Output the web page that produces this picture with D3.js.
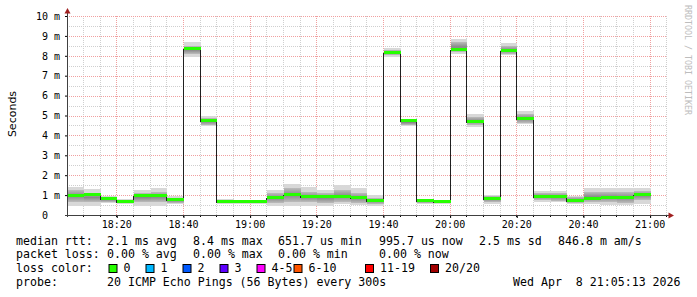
<!DOCTYPE html>
<html>
<head>
<meta charset="utf-8">
<script src="https://cdn.jsdelivr.net/npm/d3@7"></script>
<style>
    body { margin: 0; background: #fff; }
    text { font-family: "DejaVu Sans Mono", monospace; }
</style>
</head>
<body>
<div id="wrapper"></div>
<script>
// one 5-minute SmokePing step per entry
const stepTimes = ["18:05", "18:10", "18:15", "18:20", "18:25", "18:30", "18:35",
    "18:40", "18:45", "18:50", "18:55", "19:00", "19:05", "19:10", "19:15", "19:20",
    "19:25", "19:30", "19:35", "19:40", "19:45", "19:50", "19:55", "20:00", "20:05",
    "20:10", "20:15", "20:20", "20:25", "20:30", "20:35", "20:40", "20:45", "20:50", "20:55"]

// median rtt in ms
const median = [0.95, 1.02, 0.79, 0.652, 0.94, 0.97, 0.75, 8.36, 4.74, 0.66, 0.655, 0.66,
    0.85, 0.99, 0.89, 0.89, 0.92, 0.84, 0.69, 8.16, 4.71, 0.69, 0.66, 8.28, 4.69,
    0.78, 8.24, 4.82, 0.92, 0.92, 0.70, 0.80, 0.85, 0.85, 0.996]

// smoke: outer spread of the pings (ms)
const smokeHi = [1.42, 1.31, 0.97, 0.80, 1.26, 1.37, 0.97, 8.69, 4.97, 0.78, 0.72, 0.75,
    1.26, 1.54, 1.42, 1.26, 1.51, 1.37, 1.00, 8.39, 4.84, 0.80, 0.70, 8.86, 5.08,
    1.00, 8.66, 5.24, 1.21, 1.21, 0.97, 1.37, 1.34, 1.34, 1.37]
const smokeLo = [0.47, 0.47, 0.60, 0.54, 0.47, 0.47, 0.54, 7.96, 4.47, 0.55, 0.55, 0.55,
    0.47, 0.47, 0.47, 0.47, 0.54, 0.50, 0.47, 7.96, 4.47, 0.54, 0.56, 8.09, 4.44,
    0.54, 8.02, 4.57, 0.67, 0.64, 0.54, 0.54, 0.50, 0.50, 0.54]

// smoke: inner (denser) spread (ms)
const innerHi = [1.26, 1.09, 0.90, 0.74, 1.09, 1.17, 0.87, 8.49, 4.87, 0.72, 0.68, 0.70,
    1.09, 1.34, 1.17, 1.09, 1.26, 1.09, 0.87, 8.29, 4.79, 0.75, 0.68, 8.69, 4.94,
    0.94, 8.49, 5.07, 1.09, 1.09, 0.90, 1.17, 1.17, 1.14, 1.21]
const innerLo = [0.67, 0.67, 0.67, 0.60, 0.67, 0.64, 0.60, 8.09, 4.54, 0.60, 0.60, 0.60,
    0.59, 0.67, 0.67, 0.62, 0.67, 0.59, 0.54, 8.02, 4.54, 0.60, 0.60, 8.19, 4.54,
    0.64, 8.09, 4.64, 0.74, 0.72, 0.60, 0.67, 0.64, 0.62, 0.74]

const yTicks = [0, 1, 2, 3, 4, 5, 6, 7, 8, 9, 10]
const xTickLabels = ["18:20", "18:40", "19:00", "19:20", "19:40", "20:00", "20:20", "20:40", "21:00"]
const lossLabels = ["0", "1", "2", "3", "4-5", "6-10", "11-19", "20/20"]
const lossColors = ["#26ff00", "#00b8ff", "#0059ff", "#5e00ff", "#ff00ff", "#ff5500", "#ff0000", "#a10000"]

const day = "2026-04-08 "
const startTime = "18:05:13"
const endTime = "21:05:13"

const legendRtt = ["2.1 ms avg", "8.4 ms max", "651.7 us min", "995.7 us now", "2.5 ms sd", "846.8 m am/s"]
const legendLoss = ["0.00 % avg", "0.00 % max", "0.00 % min", "0.00 % now"]
const probeText = "20 ICMP Echo Pings (56 Bytes) every 300s"
const stampText = "Wed Apr  8 21:05:13 2026"

function drawChart() {
    const parseFull = d3.timeParse("%Y-%m-%d %H:%M:%S")
    const parseHM = d3.timeParse("%Y-%m-%d %H:%M")

    const dataset = stepTimes.map((t, i) => ({
        t: parseHM(day + t),
        med: median[i],
        hi: smokeHi[i], lo: smokeLo[i],
        ihi: innerHi[i], ilo: innerLo[i]
    }))

    const dimensions = {
        width: 697,
        height: 297,
        left: 67,
        right: 667,
        top: 16,
        bottom: 215
    }

    const wrapper = d3.select("#wrapper")
        .append("svg")
        .attr("width", dimensions.width)
        .attr("height", dimensions.height)
        .style("display", "block")

    const xScale = d3.scaleTime()
        .domain([parseFull(day + startTime), parseFull(day + endTime)])
        .range([dimensions.left, dimensions.right])

    const yScale = d3.scaleLinear()
        .domain([0, 10])
        .range([dimensions.bottom, dimensions.top])

    // snap to the pixel grid like rrdtool does
    const px = d => Math.round(xScale(d))
    const py = v => Math.round(yScale(v))
    const stepEnd = d => d3.timeMinute.offset(d.t, 5)

    // smoke gradient (darker toward the middle)
    const defs = wrapper.append("defs")
    const grad = defs.append("linearGradient")
        .attr("id", "smoke-inner")
        .attr("x1", 0).attr("y1", 0).attr("x2", 0).attr("y2", 1)
    grad.append("stop").attr("offset", "0%").attr("stop-color", "#bcbcbc")
    grad.append("stop").attr("offset", "50%").attr("stop-color", "#888888")
    grad.append("stop").attr("offset", "100%").attr("stop-color", "#bcbcbc")

    // grid
    const grid = wrapper.append("g")
    const minorX = xScale.ticks(d3.timeMinute.every(5))
    const majorX = xTickLabels.map(s => parseHM(day + s))
    const majorXs = majorX.map(d => +d)

    grid.selectAll(".vminor")
        .data(minorX.filter(d => !majorXs.includes(+d)))
        .join("line")
        .attr("x1", d => px(d) + 0.5)
        .attr("x2", d => px(d) + 0.5)
        .attr("y1", dimensions.top)
        .attr("y2", dimensions.bottom)
        .attr("stroke", "#cfcfcf")
        .attr("stroke-dasharray", "1,1")

    const minorY = d3.range(0, 10.01, 0.5).filter(v => v % 1 !== 0)
    grid.selectAll(".hminor")
        .data(minorY)
        .join("line")
        .attr("x1", dimensions.left)
        .attr("x2", dimensions.right)
        .attr("y1", d => py(d) + 0.5)
        .attr("y2", d => py(d) + 0.5)
        .attr("stroke", "#cfcfcf")
        .attr("stroke-dasharray", "1,1")

    grid.selectAll(".vmajor")
        .data(majorX)
        .join("line")
        .attr("x1", d => px(d) + 0.5)
        .attr("x2", d => px(d) + 0.5)
        .attr("y1", dimensions.top)
        .attr("y2", dimensions.bottom)
        .attr("stroke", "#f0a0a0")
        .attr("stroke-dasharray", "1,1")

    grid.selectAll(".hmajor")
        .data(yTicks.filter(d => d > 0))
        .join("line")
        .attr("x1", dimensions.left)
        .attr("x2", dimensions.right)
        .attr("y1", d => py(d) + 0.5)
        .attr("y2", d => py(d) + 0.5)
        .attr("stroke", "#f0a0a0")
        .attr("stroke-dasharray", "1,1")

    // data, clipped to the plot
    wrapper.append("clipPath")
        .attr("id", "plot-clip")
        .append("rect")
        .attr("x", dimensions.left + 1)
        .attr("y", 0)
        .attr("width", dimensions.right - dimensions.left)
        .attr("height", dimensions.bottom)

    const bounds = wrapper.append("g")
        .attr("clip-path", "url(#plot-clip)")
        .attr("shape-rendering", "crispEdges")

    bounds.selectAll(".smoke-outer")
        .data(dataset)
        .join("rect")
        .attr("x", d => px(d.t) + 1)
        .attr("width", d => px(stepEnd(d)) - px(d.t))
        .attr("y", d => py(d.hi))
        .attr("height", d => py(d.lo) - py(d.hi))
        .attr("fill", "#d8d8d8")

    bounds.selectAll(".smoke-inner")
        .data(dataset)
        .join("rect")
        .attr("x", d => px(d.t) + 1)
        .attr("width", d => px(stepEnd(d)) - px(d.t))
        .attr("y", d => py(d.ihi))
        .attr("height", d => py(d.ilo) - py(d.ihi))
        .attr("fill", "url(#smoke-inner)")

    const last = dataset[dataset.length - 1]
    const linePoints = dataset.map(d => [px(d.t) + 0.5, py(d.med) + 0.5])
        .concat([[px(stepEnd(last)) + 0.5, py(last.med) + 0.5]])

    bounds.append("path")
        .attr("d", d3.line().curve(d3.curveStepAfter)(linePoints))
        .attr("fill", "none")
        .attr("stroke", "#202020")
        .attr("stroke-width", 1)

    bounds.selectAll(".median-band")
        .data(dataset)
        .join("rect")
        .attr("x", d => px(d.t) + 1)
        .attr("width", d => px(stepEnd(d)) - px(d.t))
        .attr("y", d => py(d.med) - 2)
        .attr("height", 3)
        .attr("fill", lossColors[0])

    // axes
    const axisColor = "#000"
    const yAxis = wrapper.append("g")
        .attr("transform", `translate(${dimensions.left},0)`)
        .call(d3.axisLeft(yScale)
            .tickValues(yTicks)
            .tickSize(2)
            .tickPadding(5)
            .tickFormat(d => d === 0 ? "0\u00a0\u00a0" : d + "\u00a0m"))
    yAxis.select(".domain").remove()
    yAxis.selectAll("text").style("font-size", "10px").attr("fill", "#000")

    const xAxis = wrapper.append("g")
        .attr("transform", `translate(0,${dimensions.bottom})`)
        .call(d3.axisBottom(xScale)
            .tickValues(majorX)
            .tickSize(3)
            .tickPadding(3)
            .tickFormat(d3.timeFormat("%H:%M")))
    xAxis.select(".domain").remove()
    xAxis.selectAll("line").attr("transform", "translate(0.5,0)")
    xAxis.selectAll("text").style("font-size", "10px").attr("fill", "#000")

    // minor ticks
    wrapper.append("g").selectAll("line")
        .data(minorX)
        .join("line")
        .attr("x1", d => px(d) + 0.5)
        .attr("x2", d => px(d) + 0.5)
        .attr("y1", dimensions.bottom)
        .attr("y2", dimensions.bottom + 2)
        .attr("stroke", axisColor)

    wrapper.append("line")
        .attr("x1", dimensions.left + 0.5)
        .attr("x2", dimensions.left + 0.5)
        .attr("y1", dimensions.bottom + 2)
        .attr("y2", 12)
        .attr("stroke", "#404040")
    wrapper.append("line")
        .attr("x1", dimensions.left - 2)
        .attr("x2", dimensions.right + 2)
        .attr("y1", dimensions.bottom + 0.5)
        .attr("y2", dimensions.bottom + 0.5)
        .attr("stroke", "#404040")

    wrapper.append("path")
        .attr("d", `M${dimensions.left + 0.5},8 L${dimensions.left - 2.5},13.5 L${dimensions.left + 3.5},13.5 Z`)
        .attr("fill", "#a02020")
    wrapper.append("path")
        .attr("d", `M${dimensions.right + 7},${dimensions.bottom + 0.5} L${dimensions.right + 1.5},${dimensions.bottom - 2.5} L${dimensions.right + 1.5},${dimensions.bottom + 3.5} Z`)
        .attr("fill", "#a02020")

    // y label & watermark
    wrapper.append("text")
        .attr("transform", "translate(15.5,114) rotate(-90)")
        .attr("text-anchor", "middle")
        .style("font-family", "'DejaVu Sans', sans-serif")
        .style("font-size", "11px")
        .attr("fill", "#000")
        .text("Seconds")

    wrapper.append("text")
        .attr("transform", "translate(684.5,5) rotate(90)")
        .style("font-size", "8.3px")
        .attr("fill", "#bdbdbd")
        .text("RRDTOOL / TOBI OETIKER")

    // legend
    const legend = wrapper.append("g")
        .style("font-size", "11.6px")
        .attr("fill", "#000")

    const addText = (x, y, s) => legend.append("text")
        .attr("x", x).attr("y", y)
        .attr("xml:space", "preserve")
        .style("white-space", "pre")
        .text(s)

    const rows = [244.5, 258.3, 272.3, 286]
    addText(16, rows[0], "median rtt:")
    const rttX = [107, 193, 278, 379, 479, 558]
    legendRtt.forEach((s, i) => addText(rttX[i], rows[0], s))

    addText(16, rows[1], "packet loss:")
    const lossX = [107, 193, 278, 379]
    legendLoss.forEach((s, i) => addText(lossX[i], rows[1], s))

    addText(16, rows[2], "loss color:")
    const boxX = [108.5, 145.5, 182.5, 219.5, 256.5, 293.5, 365, 430]
    lossLabels.forEach((s, i) => {
        legend.append("rect")
            .attr("x", boxX[i] + 0.5).attr("y", 264.5)
            .attr("width", 8).attr("height", 8)
            .attr("fill", lossColors[i])
            .attr("stroke", "#000")
        addText(boxX[i] + 15, rows[2], s)
    })

    addText(16, rows[3], "probe:")
    addText(107, rows[3], probeText)
    addText(513, rows[3], stampText)
}

drawChart()
</script>
</body>
</html>
